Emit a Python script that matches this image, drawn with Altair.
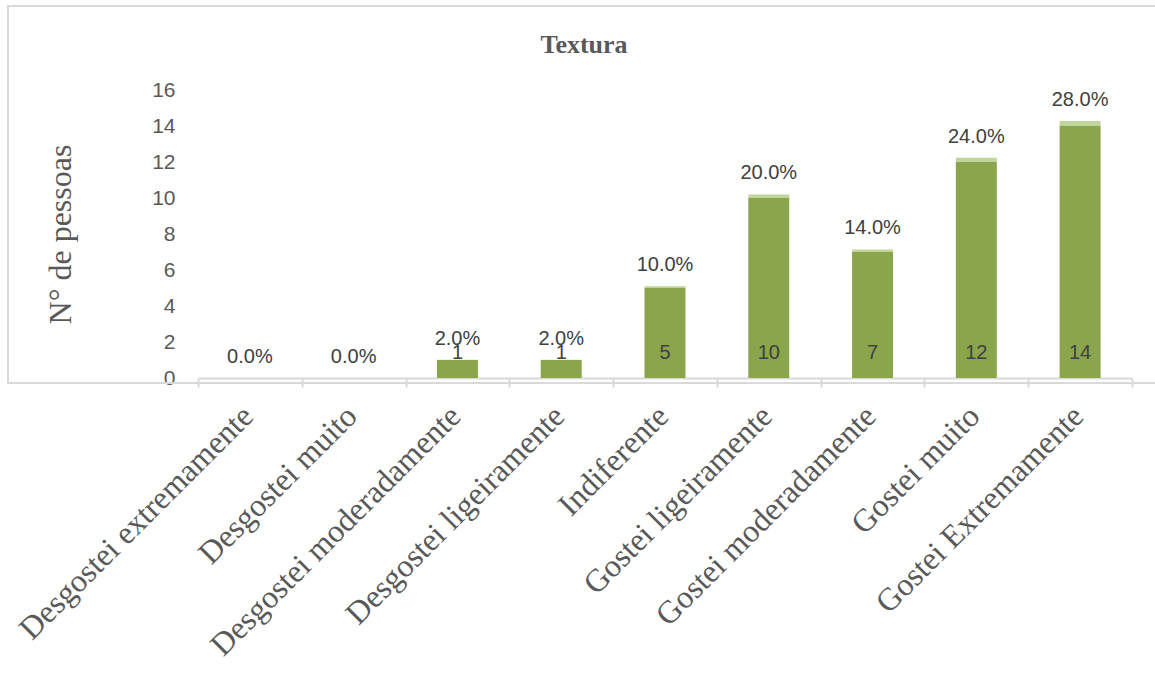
import altair as alt
import pandas as pd

categories = [
    "Desgostei extremamente",
    "Desgostei muito",
    "Desgostei moderadamente",
    "Desgostei ligeiramente",
    "Indiferente",
    "Gostei ligeiramente",
    "Gostei moderadamente",
    "Gostei muito",
    "Gostei Extremamente",
]
counts = [0, 0, 1, 1, 5, 10, 7, 12, 14]
percents = [0.0, 0.0, 2.0, 2.0, 10.0, 20.0, 14.0, 24.0, 28.0]
chart_title = "Textura"
y_title = "N° de pessoas"
y_ticks = [0, 2, 4, 6, 8, 10, 12, 14, 16]

df = pd.DataFrame({"cat": categories, "n": counts, "pct": percents})
df["top"] = df["n"] + df["pct"] / 100.0
df["pct_label"] = df["pct"].map(lambda v: f"{v:.1f}%")
df["n_label"] = df["n"].map(lambda v: str(v) if v > 0 else "")

GRAY = "#595959"
DARK = "#404040"

x_axis = alt.Axis(
    title=None,
    labelAngle=-45,
    labelFont="Liberation Serif",
    labelFontSize=32,
    labelColor=GRAY,
    labelPadding=13,
    labelOffset=-13,
    labelLimit=600,
    labelOverlap=False,
    domainColor="#d9d9d9",
    domainWidth=2,
    tickColor="#d9d9d9",
    tickWidth=2,
    tickSize=9,
    tickBand="extent",
    grid=False,
)
x_scale = alt.Scale(paddingInner=0, paddingOuter=0)
x_enc = alt.X("cat:N", sort=categories, scale=x_scale, axis=x_axis)

y_axis = alt.Axis(
    title=y_title,
    titleFont="Liberation Serif",
    titleFontSize=32,
    titleFontWeight="normal",
    titleColor=GRAY,
    titleAngle=-90,
    titleX=-138,
    titleY=144,
    titleAlign="center",
    titleBaseline="middle",
    values=y_ticks,
    labelOverlap=False,
    labelFont="Liberation Sans",
    labelFontSize=21,
    labelColor=GRAY,
    labelPadding=23,
    ticks=False,
    domain=False,
    grid=False,
)
y_scale = alt.Scale(domain=[0, 16], nice=False)

base = alt.Chart(df)

frame = alt.Chart(pd.DataFrame({"k": [0]})).mark_rect(
    fill=None, stroke="#d9d9d9", strokeWidth=2, clip=False
).encode(
    x=alt.value(-190), x2=alt.value(1100), y=alt.value(-84), y2=alt.value(293)
)

title_mark = alt.Chart(pd.DataFrame({"t": [chart_title]})).mark_text(
    font="Liberation Serif",
    fontSize=26,
    fontWeight="bold",
    color=GRAY,
    align="center",
    baseline="middle",
).encode(x=alt.value(386), y=alt.value(-45), text="t:N")

bars = base.mark_bar(size=41, color="#8AA54B").encode(
    x=x_enc,
    y=alt.Y("n:Q", scale=y_scale, axis=y_axis),
)

tops = base.mark_bar(size=41, color="#C0D59A").encode(
    x=x_enc,
    y=alt.Y("n:Q", scale=y_scale, axis=y_axis),
    y2="top:Q",
)

pct_text = base.mark_text(
    font="Liberation Sans", fontSize=20, color=DARK, baseline="middle", dy=-21
).encode(
    x=x_enc,
    y=alt.Y("top:Q", scale=y_scale, axis=y_axis),
    text="pct_label:N",
)

n_text = base.mark_text(
    font="Liberation Sans", fontSize=20, color=DARK, baseline="middle", dy=-25
).encode(
    x=x_enc,
    y=alt.YDatum(0, type="quantitative", scale=y_scale, axis=y_axis),
    text="n_label:N",
)

chart = alt.layer(frame, title_mark, bars, tops, pct_text, n_text).properties(
    width=934,
    height=288,
    autosize=alt.AutoSizeParams(type="none"),
    padding={"left": 198, "top": 90, "right": 23, "bottom": 297},
).configure_view(stroke=None)

chart.save("out.html", embed_options={"renderer": "svg", "actions": False})
